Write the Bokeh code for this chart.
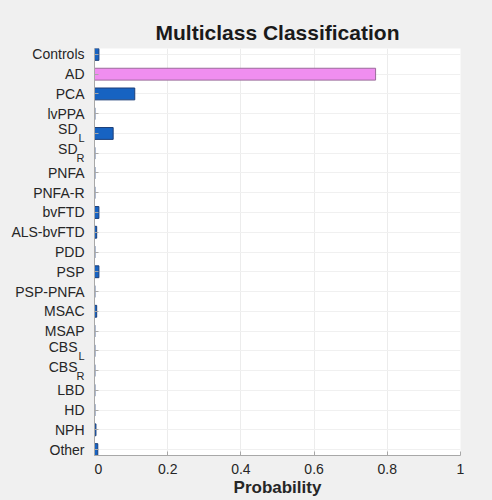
from bokeh.plotting import figure
from bokeh.layouts import row
from bokeh.models import ColumnDataSource, Range1d, FixedTicker
from bokeh.core.properties import value
from bokeh.embed import file_html
from bokeh.resources import INLINE

# Diagnostic classes, top to bottom; subscripts are drawn as a smaller second text
classes = ["Controls", "AD", "PCA", "lvPPA", "SD", "SD", "PNFA", "PNFA-R", "bvFTD",
           "ALS-bvFTD", "PDD", "PSP", "PSP-PNFA", "MSAC", "MSAP", "CBS", "CBS",
           "LBD", "HD", "NPH", "Other"]
subscripts = ["", "", "", "", "L", "R", "", "", "", "", "", "", "", "", "", "L", "R",
              "", "", "", ""]
probability = [0.012, 0.768, 0.110, 0.001, 0.051, 0.001, 0.001, 0.001, 0.012,
               0.006, 0.001, 0.012, 0.001, 0.006, 0.001, 0.001, 0.001, 0.001,
               0.001, 0.004, 0.009]
x_ticks = [0, 0.2, 0.4, 0.6, 0.8, 1]
x_tick_labels = ["0", "0.2", "0.4", "0.6", "0.8", "1"]

FONT = "Liberation Sans"
TEXT = "#262626"
PANEL = "#f0f0f0"
BLUE, BLUE_EDGE = "#1763c2", "#1d3f78"
PINK, PINK_EDGE = "#f08ef0", "#9b6b9b"

rows = list(range(len(classes)))
top = probability.index(max(probability))
bars = ColumnDataSource(dict(
    y=rows,
    p=probability,
    fill=[PINK if i == top else BLUE for i in rows],
    edge=[PINK_EDGE if i == top else BLUE_EDGE for i in rows],
))

y_range = Range1d(len(classes) - 0.7, -0.3)
TOP, BOTTOM = 48, 45
NAMES_W = 94      # width of the class-name panel

# ---- bar chart ----
p = figure(width=366 + 32, height=500, output_backend="svg",
           toolbar_location=None, x_range=Range1d(0, 1), y_range=y_range,
           min_border_left=0, min_border_right=32, min_border_top=TOP,
           min_border_bottom=BOTTOM)
p.border_fill_color = PANEL
p.background_fill_color = "white"
p.outline_line_color = None

p.title.text = "Multiclass Classification"
p.title.align = "center"
p.title.text_font = FONT
p.title.text_font_size = "21px"
p.title.text_font_style = "bold"
p.title.text_color = "#1a1a1a"

p.hbar(y="y", left=0, right="p", height=0.6, source=bars,
       fill_color="fill", line_color="edge", line_width=1)

xa = p.xaxis[0]
xa.ticker = FixedTicker(ticks=x_ticks)
xa.major_label_overrides = {t: s for t, s in zip(x_ticks, x_tick_labels)}
xa.axis_label = "Probability"
xa.axis_label_text_font = FONT
xa.axis_label_text_font_size = "17px"
xa.axis_label_text_font_style = "bold"
xa.axis_label_text_color = TEXT
xa.axis_label_standoff = 1
xa.major_label_text_font = FONT
xa.major_label_text_font_size = "14px"
xa.major_label_text_color = TEXT
xa.major_label_standoff = 8
xa.axis_line_color = "#a8a8a8"
xa.major_tick_line_color = "#a8a8a8"
xa.major_tick_in = 4
xa.major_tick_out = 0
xa.minor_tick_line_color = None

# y axis keeps only its line and inward ticks; names live in the side panel
ya = p.yaxis[0]
ya.ticker = FixedTicker(ticks=rows)
ya.major_label_overrides = {i: "" for i in rows}
ya.major_label_standoff = 0
ya.axis_line_color = "#a8a8a8"
ya.major_tick_line_color = "#a8a8a8"
ya.major_tick_in = 4
ya.major_tick_out = 0
ya.minor_tick_line_color = None

p.xgrid.grid_line_color = "#ececec"
p.ygrid.grid_line_color = "#f0f0f0"

# ---- class-name panel to the left of the axis ----
names = figure(width=NAMES_W, height=500, output_backend="svg", toolbar_location=None,
               x_range=Range1d(0, NAMES_W), y_range=y_range,
               x_axis_type=None, y_axis_type=None,
               min_border_left=0, min_border_right=0, min_border_top=TOP,
               min_border_bottom=BOTTOM)
names.grid.visible = False
names.outline_line_color = None
names.border_fill_color = PANEL
names.background_fill_color = PANEL

SUB_W = 7
RIGHT = NAMES_W - 10
plain = ColumnDataSource(dict(
    y=[i for i in rows if not subscripts[i]],
    t=[classes[i] for i in rows if not subscripts[i]],
))
based = ColumnDataSource(dict(
    y=[i for i in rows if subscripts[i]],
    t=[classes[i] for i in rows if subscripts[i]],
    s=[subscripts[i] for i in rows if subscripts[i]],
))
common = dict(text_align="right", text_baseline="middle",
              text_font=value(FONT), text_color=TEXT)
names.text(x=RIGHT, y="y", text="t", source=plain, text_font_size="14px", **common)
names.text(x=RIGHT - SUB_W, y="y", text="t", source=based, y_offset=-4,
           text_font_size="14px", **common)
names.text(x=RIGHT, y="y", text="s", source=based, y_offset=5,
           text_font_size="11px", **common)

layout = row(names, p, spacing=0)
layout.styles = {"background-color": PANEL}
open("out.html", "w").write(file_html(layout, INLINE))
